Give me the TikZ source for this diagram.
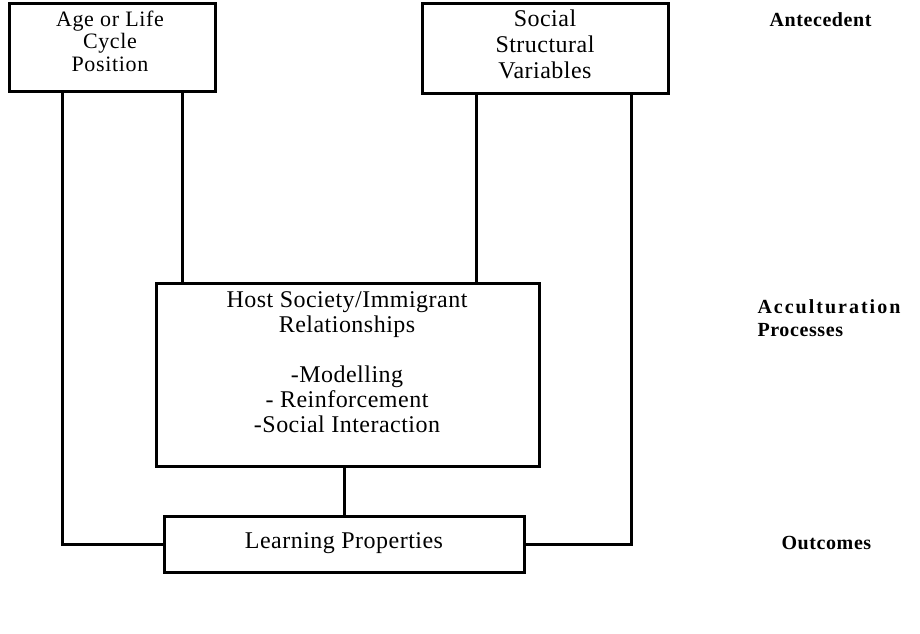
\documentclass[tikz,border=0pt]{standalone}
\usepackage{fontspec}
\setmainfont{Liberation Serif}
\begin{document}
\begin{tikzpicture}[x=1pt,y=-1pt,
  box/.style={draw, line width=3pt, inner sep=0pt},
  txt/.style={inner sep=0pt, align=center, font=\addfontfeature{LetterSpace=2}\fontsize{24}{22.5}\selectfont},
  conn/.style={line width=3pt},
  lab/.style={anchor=west, align=left, font=\bfseries\addfontfeature{LetterSpace=3}\fontsize{20}{23}\selectfont}]
\useasboundingbox (0,0) rectangle (920,633);
\node[box, minimum width=206, minimum height=88] (age) at (112,47) {};
\node[txt, font=\addfontfeature{LetterSpace=3}\fontsize{22}{22.5}\selectfont] (aget) at (110,41) {Age or Life\\Cycle\\Position};
\node[box, minimum width=246, minimum height=90] (soc) at (545,48) {};
\node[txt, font=\addfontfeature{LetterSpace=2}\fontsize{24}{26}\selectfont] (soct) at (545,44) {Social\\Structural\\Variables};
\node[box, minimum width=383, minimum height=183] (host) at (348,375) {};
\node[txt, font=\addfontfeature{LetterSpace=2}\fontsize{24}{25}\selectfont] (hostt) at (347,362) {Host Society/Immigrant\\Relationships\\[25pt]-Modelling\\- Reinforcement\\-Social Interaction};
\node[box, minimum width=360, minimum height=56] (learn) at (344,544) {};
\node[txt] (learnt) at (344,543) {Learning Properties};
\coordinate (xa) at (62,0);
\coordinate (xb) at (182,0);
\coordinate (xc) at (476,0);
\coordinate (xd) at (631,0);
\draw[conn] (xa |- age.south) -- (xa |- learn.west) -- (learn.west);
\draw[conn] (xb |- age.south) -- (xb |- host.north);
\draw[conn] (xc |- soc.south) -- (xc |- host.north);
\draw[conn] (xd |- soc.south) -- (xd |- learn.east) -- (learn.east);
\draw[conn] (host.south -| learn.north) -- (learn.north);
\node[lab] (ante) at (766,20) {Antecedent};
\node[lab] (acc) at (754,318) {{\addfontfeature{LetterSpace=10}Acculturation}\\Processes};
\node[lab] (out) at (778,543) {Outcomes};
\end{tikzpicture}
\end{document}
